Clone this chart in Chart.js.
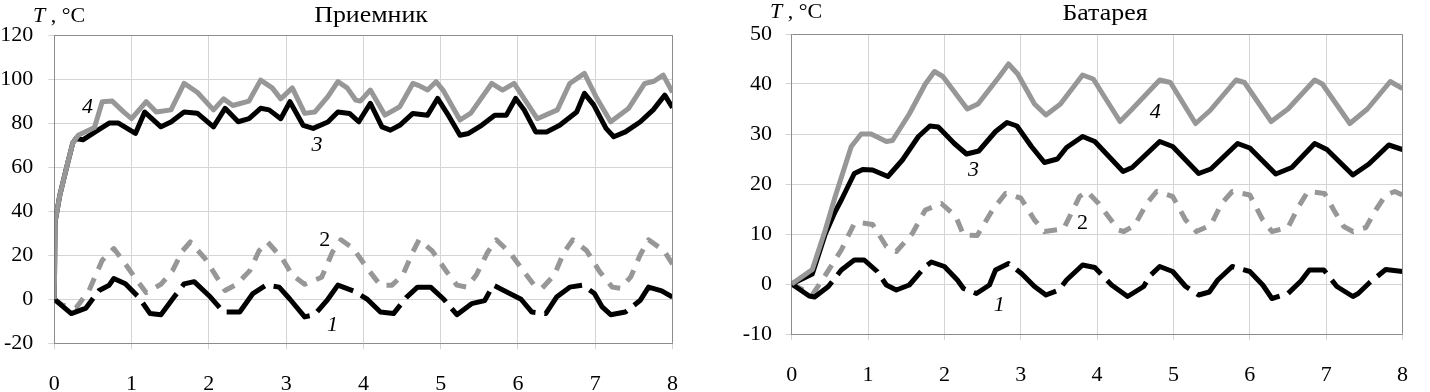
<!DOCTYPE html>
<html><head><meta charset="utf-8">
<script src="https://cdn.jsdelivr.net/npm/chart.js@4/dist/chart.umd.min.js"></script>
<style>
html,body{margin:0;padding:0;background:#fff;width:1430px;height:392px;overflow:hidden}
canvas{position:absolute;top:0}
#c1{left:0}
#c2{left:715px}
</style></head><body>
<canvas id="c1" width="700" height="392"></canvas>
<canvas id="c2" width="715" height="392"></canvas>
<script>
// ---- Data: [hours, °C] ----
const xTicks = [0,1,2,3,4,5,6,7,8];
const recTitle = 'Приемник';
const batTitle = 'Батарея';
const yLabel = 'T';
const yUnit = ' , °C';

const rec1 = [[0,0],[0.22,-6.5],[0.41,-4],[0.58,4],[0.71,6.4],[0.77,9.4],[0.92,7],[1.09,1],[1.24,-6.5],[1.38,-7],[1.55,1],[1.68,7],[1.81,8],[2.02,1],[2.19,-5.8],[2.40,-5.8],[2.57,2.6],[2.74,6.4],[2.91,5.5],[3.05,0],[3.24,-8],[3.37,-7],[3.54,0],[3.67,6.4],[3.87,3.8],[4.05,0],[4.22,-5.8],[4.39,-6.5],[4.56,1],[4.70,5.5],[4.87,5.5],[5.04,0],[5.21,-7],[5.40,-2],[5.57,-0.6],[5.68,6.4],[5.83,3.8],[6.04,0],[6.18,-5.8],[6.36,-6.5],[6.50,1],[6.67,5.5],[6.84,6.4],[6.99,2.6],[7.09,-3.5],[7.20,-7],[7.39,-5.8],[7.58,-0.6],[7.69,5.5],[7.86,3.8],[8,1]];
const rec2 = [[0,0],[0.11,-2.7],[0.28,-4],[0.45,4],[0.62,17.7],[0.77,23],[0.90,17],[1.04,10],[1.19,3],[1.38,6.8],[1.53,13],[1.66,22],[1.76,26],[1.95,18.5],[2.09,10.7],[2.21,4],[2.36,6.8],[2.53,13],[2.65,22],[2.76,26],[2.95,18.5],[3.08,11],[3.24,6.8],[3.46,10],[3.60,21.5],[3.71,27],[3.87,23],[4.05,14],[4.22,6.4],[4.37,6.4],[4.51,11],[4.64,21.5],[4.72,27],[4.89,22],[5.08,12.4],[5.21,6.4],[5.34,5.5],[5.46,11],[5.61,21.5],[5.72,27],[5.90,21],[6.08,12.4],[6.21,6.4],[6.31,4.9],[6.47,11],[6.59,21],[6.71,27],[6.89,22],[7.06,12.4],[7.22,5.5],[7.33,5],[7.46,10.2],[7.58,20],[7.69,27],[7.89,22],[8,16]];
const rec3 = [[0,0],[0.01,35],[0.07,47],[0.16,60],[0.24,71],[0.28,73],[0.37,72.4],[0.53,76],[0.71,80],[0.83,80],[1.05,75.3],[1.17,85],[1.38,78.3],[1.51,80.5],[1.68,85],[1.85,84.5],[2.06,78.3],[2.21,86.7],[2.38,80.6],[2.52,82],[2.67,86.7],[2.78,86],[2.93,82],[3.05,89.7],[3.22,79],[3.35,77.6],[3.54,80.5],[3.67,85],[3.82,84.4],[3.94,80.6],[4.09,89],[4.24,78.3],[4.35,76.8],[4.47,79],[4.64,84.4],[4.83,83.6],[4.96,91.2],[5.11,82.9],[5.25,74.5],[5.36,75.3],[5.53,79],[5.70,83.6],[5.85,83.6],[5.97,91.2],[6.08,86],[6.23,76],[6.37,76],[6.54,79],[6.76,85],[6.86,93.5],[6.98,88.3],[7.14,77.6],[7.24,73.8],[7.39,76],[7.58,80.5],[7.75,86],[7.90,92.7],[8,87]];
const rec4 = [[0,0],[0.01,35],[0.07,47],[0.16,60],[0.24,71],[0.31,74.5],[0.37,75.5],[0.52,78],[0.62,89.7],[0.75,90],[0.9,85],[1.0,82],[1.19,89.7],[1.32,85],[1.51,86],[1.68,98],[1.85,94],[2.06,86],[2.19,91],[2.31,88],[2.52,90],[2.67,99.5],[2.82,96],[2.93,91],[3.08,96],[3.24,84.4],[3.37,85],[3.54,92],[3.67,98.8],[3.79,96],[3.90,90.5],[3.96,90],[4.09,95],[4.28,83.6],[4.47,87.4],[4.64,98],[4.72,97],[4.83,95],[4.94,98.8],[5.03,95],[5.25,81.4],[5.39,84.5],[5.66,98],[5.80,95],[5.95,98],[6.25,82],[6.51,86],[6.67,98],[6.86,102.6],[7.01,92],[7.2,80.6],[7.43,86.6],[7.64,98],[7.76,99],[7.88,101.8],[8,94]];

const bat1 = [[0,0],[0.23,-2.4],[0.30,-2.6],[0.48,-0.5],[0.65,2.8],[0.82,4.8],[0.95,4.8],[1.12,2.5],[1.24,-0.2],[1.37,-1.2],[1.54,-0.2],[1.75,3.5],[1.83,4.4],[2.0,3.5],[2.17,0.8],[2.25,-0.9],[2.42,-1.9],[2.59,-0.2],[2.67,2.8],[2.84,4.1],[3.01,2.1],[3.18,-0.5],[3.33,-2.2],[3.50,-1.2],[3.60,0.8],[3.81,3.8],[3.97,3.3],[4.19,-0.2],[4.40,-2.5],[4.61,-0.5],[4.69,1.6],[4.82,3.5],[4.99,2.5],[5.16,-0.5],[5.33,-2.2],[5.47,-1.6],[5.58,0.8],[5.77,3.5],[6.0,2.5],[6.17,-0.2],[6.29,-2.9],[6.50,-1.9],[6.67,0.6],[6.78,2.8],[6.97,2.8],[7.14,-0.5],[7.35,-2.5],[7.42,-1.9],[7.57,0.3],[7.78,2.9],[8,2.5]];
const bat2 = [[0,0],[0.19,-1.5],[0.27,-2.2],[0.40,0.8],[0.65,6.8],[0.82,12.1],[0.89,12.3],[1.06,11.9],[1.24,7.5],[1.37,6.5],[1.58,10.1],[1.75,14.8],[1.96,16.1],[2.15,13.5],[2.25,9.8],[2.43,9.7],[2.63,14.8],[2.80,18.1],[3.0,17.2],[3.18,12.8],[3.31,10.5],[3.56,11],[3.77,17.5],[3.87,18.5],[4.02,16.1],[4.28,10.8],[4.35,10.5],[4.49,11.7],[4.65,16.1],[4.78,18.5],[4.99,17.5],[5.16,12.8],[5.30,10.5],[5.49,11.8],[5.63,16.1],[5.77,18.5],[6.0,17.8],[6.17,12.8],[6.29,10.5],[6.50,11.3],[6.64,15.5],[6.76,18.5],[6.98,18.1],[7.10,14.8],[7.23,11.5],[7.35,10.5],[7.52,11.3],[7.65,14.8],[7.78,17.8],[7.90,18.5],[8,17.8]];
const bat3 = [[0,0],[0.27,2],[0.44,10],[0.57,14.5],[0.65,16.8],[0.82,22.1],[0.93,22.9],[1.06,22.8],[1.26,21.5],[1.45,24.8],[1.66,29.5],[1.81,31.6],[1.92,31.4],[2.13,28.1],[2.29,26],[2.45,26.6],[2.67,30.5],[2.82,32.3],[2.95,31.6],[3.14,27.5],[3.31,24.3],[3.48,25],[3.60,27.3],[3.81,29.5],[3.97,28.5],[4.34,22.5],[4.46,23.3],[4.82,28.5],[4.99,27.5],[5.33,22.1],[5.49,23],[5.84,28.1],[6.0,27.2],[6.34,22],[6.55,23.3],[6.85,28.1],[7.01,26.9],[7.35,21.8],[7.56,24],[7.82,27.8],[8,26.9]];
const bat4 = [[0,0],[0.27,2.9],[0.44,10.8],[0.57,17.5],[0.78,27.5],[0.91,30],[1.04,30],[1.24,28.5],[1.32,28.7],[1.54,34],[1.75,40],[1.87,42.5],[1.98,41.5],[2.30,35],[2.44,36],[2.72,41.5],[2.84,44],[2.96,42],[3.18,36],[3.33,33.8],[3.52,36],[3.81,41.8],[3.95,41],[4.30,32.5],[4.46,35],[4.82,40.8],[4.96,40.3],[5.29,32.1],[5.48,34.7],[5.82,40.8],[5.93,40.3],[6.28,32.5],[6.50,35],[6.85,40.8],[6.95,40],[7.31,32.1],[7.54,35],[7.84,40.5],[8,39.1]];

// curve number labels: [text, x(hours), y(°C), italic]
const recLabels = [['4',0.43,87.3,true],['3',3.4,70,true],['2',3.5,26.8,false],['1',3.6,-11.8,true]];
const batLabels = [['4',4.76,34.4,true],['3',2.38,22.8,true],['2',3.81,12.2,false],['1',2.72,-4.2,true]];

const FONT = "'Liberation Serif','Times New Roman',serif";
const GRAY = '#979797';

function toPts(a){ return a.map(p => ({x:p[0], y:p[1]})); }

function makeChart(id, s1, s2, s3, s4, yMin, yMax, yStep, L){
  const textPlugin = {
    id:'txt',
    afterDraw(chart){
      const ctx = chart.ctx, ca = chart.chartArea, xs = chart.scales.x, ys = chart.scales.y;
      ctx.save();
      ctx.strokeStyle = '#8c8c8c'; ctx.lineWidth = 1;
      ctx.beginPath();
      ctx.moveTo(Math.round(ca.left)+0.5, Math.round(ca.top)+0.5);
      ctx.lineTo(Math.round(ca.right)-0.5, Math.round(ca.top)+0.5);
      ctx.lineTo(Math.round(ca.right)-0.5, Math.round(ca.bottom)-0.5);
      ctx.stroke();
      ctx.fillStyle = '#000';
      ctx.textBaseline = 'alphabetic';
      // title (slightly wide, as in the original)
      ctx.save();
      ctx.font = '22.5px ' + FONT;
      ctx.textAlign = 'center';
      ctx.translate(L.titleX, L.titleY);
      ctx.scale(1.15, 1);
      ctx.fillText(L.title, 0, 0);
      ctx.restore();
      // y label
      ctx.textAlign = 'left';
      ctx.font = 'italic 22px ' + FONT;
      ctx.fillText(yLabel, L.yLabX, L.yLabY);
      const w = ctx.measureText(yLabel).width;
      ctx.font = '22px ' + FONT;
      ctx.fillText(yUnit, L.yLabX + w, L.yLabY);
      // curve numbers
      ctx.textAlign = 'center'; ctx.textBaseline = 'middle';
      for (const [t, x, y, it] of L.labels){
        ctx.font = (it ? 'italic ' : '') + '22px ' + FONT;
        ctx.fillText(t, xs.getPixelForValue(x), ys.getPixelForValue(y));
      }
      ctx.restore();
    }
  };
  return new Chart(document.getElementById(id), {
    type:'line',
    data:{ datasets:[
      {data:toPts(s4), borderColor:GRAY, borderWidth:5, order:1},
      {data:toPts(s3), borderColor:'#000', borderWidth:5, order:2},
      {data:toPts(s1), borderColor:'#000', borderWidth:5, borderDash:[50,9], order:3},
      {data:toPts(s2), borderColor:GRAY, borderWidth:5, borderDash:[13,10], order:4},
    ]},
    options:{
      responsive:false, animation:false,
      layout:{padding:{left:0, right:L.padR, top:L.padT, bottom:0}},
      plugins:{legend:{display:false}, tooltip:{enabled:false}},
      elements:{point:{radius:0}, line:{tension:0, borderJoinStyle:'round', borderCapStyle:'butt'}},
      scales:{
        x:{type:'linear', min:0, max:8,
          afterFit(s){ s.height = L.xH; },
          afterBuildTicks(s){ s.ticks = xTicks.map(v=>({value:v})); },
          grid:{color:'#d4d4d4', lineWidth:1, tickLength:6, drawTicks:true},
          border:{display:true, color:'#8c8c8c', width:1},
          ticks:{color:'#000', font:{family:FONT, size:22}, padding:L.xPad, maxRotation:0}
        },
        y:{type:'linear', min:yMin, max:yMax,
          afterFit(s){ s.width = L.yW; },
          grid:{color:'#d4d4d4', lineWidth:1, tickLength:6, drawTicks:true},
          border:{display:true, color:'#8c8c8c', width:1},
          ticks:{stepSize:yStep, color:'#000', font:{family:FONT, size:22}, padding:L.yPad}
        }
      }
    },
    plugins:[textPlugin]
  });
}

makeChart('c1', rec1, rec2, rec3, rec4, -20, 120, 20, {
  title:recTitle, titleX:371, titleY:22, yLabX:33, yLabY:22,
  padR:16.5, padT:35, xH:48.7, yW:54.3, xPad:22, yPad:15, labels:recLabels
});
makeChart('c2', bat1, bat2, bat3, bat4, -10, 50, 10, {
  title:batTitle, titleX:390, titleY:19.5, yLabX:55, yLabY:17.5,
  padR:5.5, padT:34, xH:58, yW:76.7, xPad:22, yPad:13.7, labels:batLabels
});
</script>
</body></html>
